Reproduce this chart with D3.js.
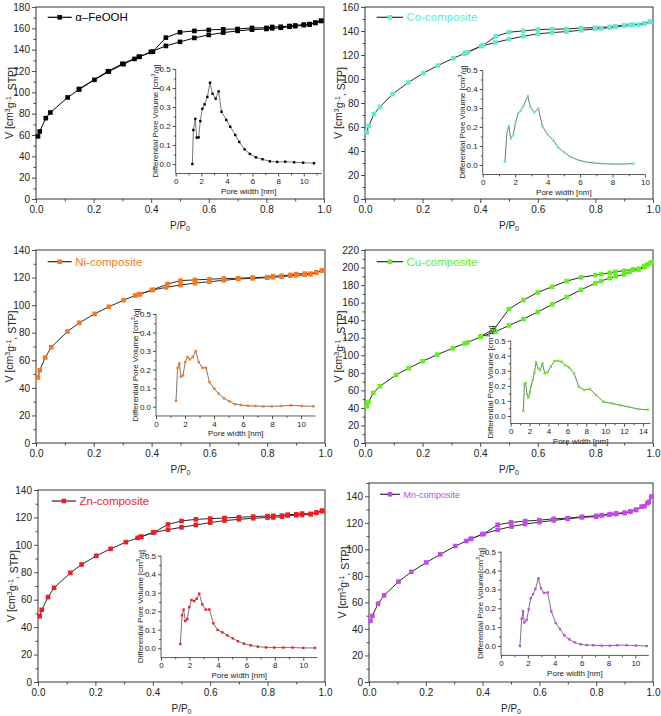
<!DOCTYPE html>
<html><head><meta charset="utf-8">
<script src="https://cdn.jsdelivr.net/npm/d3@7"></script>
<style>
body{margin:0;background:#fff}
svg text{font-family:"Liberation Sans",Arial,Helvetica,sans-serif}
</style>
</head><body>
<svg id="c" width="661" height="716"></svg>
<script>
// ---------- DATA ----------
const pTicks = [0, 0.2, 0.4, 0.6, 0.8, 1.0];
const seriesNames = ["α–FeOOH", "Co-composite", "Ni-composite", "Cu-composite", "Zn-composite", "Mn-composite"];
const seriesColors = ["#000000", "#66e8cf", "#f47a22", "#66ee22", "#ee1c24", "#c24ae8"];
const yMaxes = [180, 160, 140, 220, 140, 150];
const yTickMax = [180, 160, 140, 220, 140, 140];
const psdXMax = [11.4, 10, 11, 14.8, 11, 11];
const psdXTicks = [[0,2,4,6,8,10],[0,2,4,6,8,10],[0,2,4,6,8,10],[0,2,4,6,8,10,12,14],[0,2,4,6,8,10],[0,2,4,6,8,10]];
const psdYTicks = [0, 0.1, 0.2, 0.3, 0.4, 0.5];

// adsorption / desorption branches [P/P0, V]
const feoohAds = [[0.007,58.7],[0.013,63.3],[0.034,75.8],[0.05,81.1],[0.11,95.2],[0.149,102.6],[0.203,111.7],[0.253,119.5],[0.304,126.4],[0.342,131.3],[0.357,133.2],[0.399,137.9],[0.451,143.5],[0.5,147.3],[0.55,151],[0.6,153.8],[0.65,156],[0.7,157.6],[0.75,158.8],[0.8,159.4],[0.82,160],[0.85,160.5],[0.88,161.5],[0.9,162],[0.93,163],[0.95,163.5],[0.97,165],[0.99,167]];
const feoohDes = [[0.99,167],[0.97,165.4],[0.95,164],[0.93,163.5],[0.9,162.7],[0.88,162.2],[0.85,161.5],[0.82,161.3],[0.8,160.4],[0.75,160.4],[0.7,159.4],[0.65,159.1],[0.6,158.5],[0.55,157.6],[0.5,156.3],[0.451,151.3],[0.406,138.2],[0.36,133.5],[0.3,126.8],[0.25,119.8],[0.15,103.2]];
const coAds = [[0.006,55.5],[0.013,61],[0.031,70.7],[0.052,76.8],[0.096,87.4],[0.15,97.1],[0.203,104.9],[0.253,111.2],[0.307,117.3],[0.345,121.2],[0.357,122.3],[0.403,127.3],[0.452,130.4],[0.5,133.1],[0.55,135.6],[0.6,137.6],[0.65,138.7],[0.7,139.5],[0.75,140.6],[0.8,141.7],[0.82,142.2],[0.85,142.8],[0.87,143.4],[0.9,144.5],[0.92,145],[0.95,145.3],[0.97,146.2],[0.99,147.6]];
const coDes = [[0.99,147.6],[0.97,146.2],[0.93,145.3],[0.9,144.7],[0.87,143.9],[0.85,143.4],[0.8,142.8],[0.75,142.5],[0.7,141.7],[0.65,141.5],[0.6,141.2],[0.55,140.1],[0.5,139],[0.455,135.6],[0.41,128.2],[0.35,121.8]];
const niAds = [[0.007,47.5],[0.013,52.8],[0.032,62],[0.053,69.5],[0.109,80.9],[0.15,87.2],[0.203,93.7],[0.252,98.8],[0.303,103.6],[0.343,107],[0.356,107.8],[0.401,110.9],[0.45,112.9],[0.5,114.6],[0.55,116],[0.6,117],[0.65,118],[0.7,119],[0.75,119.4],[0.8,119.9],[0.82,120.2],[0.85,120.6],[0.88,121.4],[0.9,121.6],[0.93,122],[0.95,122.3],[0.97,123.6],[0.99,125.1]];
const niDes = [[0.99,125.1],[0.97,123.8],[0.95,122.8],[0.93,122.9],[0.9,122.5],[0.88,121.9],[0.85,121.3],[0.82,121],[0.8,120.3],[0.75,120],[0.7,119.5],[0.65,119.3],[0.6,118.8],[0.55,118.3],[0.5,117.8],[0.455,115.3],[0.405,111.2],[0.36,108]];
const cuAds = [[0.006,41.9],[0.012,46.8],[0.029,57.1],[0.052,64.7],[0.108,77.6],[0.152,85.3],[0.2,93.2],[0.251,100.8],[0.305,108],[0.345,113.4],[0.356,114.6],[0.402,121],[0.453,126.8],[0.5,134],[0.55,141.3],[0.6,149.3],[0.65,158],[0.7,166.3],[0.75,174.7],[0.8,182],[0.82,184.6],[0.85,188],[0.87,190],[0.9,192.3],[0.92,195],[0.95,197.6],[0.97,200.3],[0.98,203],[0.99,204.8]];
const cuDes = [[0.995,206],[0.98,203.5],[0.97,201.8],[0.95,198.7],[0.93,197.9],[0.9,196.4],[0.87,195.2],[0.85,194],[0.82,192.5],[0.8,191.4],[0.75,188.8],[0.7,184.6],[0.65,178.1],[0.6,171.7],[0.55,162.9],[0.5,152.6],[0.448,129.8],[0.4,121.3]];
const znAds = [[0.006,48],[0.013,52.6],[0.035,61.9],[0.056,68.7],[0.113,79.6],[0.152,85.7],[0.203,92],[0.253,97.1],[0.306,102],[0.347,105.1],[0.358,105.8],[0.401,108.9],[0.453,111.1],[0.5,112.8],[0.55,114.5],[0.6,116.2],[0.65,117.7],[0.7,118.6],[0.75,119.4],[0.8,119.9],[0.82,120],[0.85,120.6],[0.87,121.4],[0.9,121.6],[0.92,121.8],[0.95,122.3],[0.97,123.3],[0.99,124.5]];
const znDes = [[0.99,125],[0.97,123.6],[0.95,122.6],[0.92,122.8],[0.9,122.3],[0.87,122],[0.85,121.3],[0.82,121.2],[0.8,121],[0.75,120.6],[0.7,120.1],[0.65,119.6],[0.6,119.1],[0.55,118.6],[0.5,117.4],[0.453,114.9],[0.405,109.2],[0.36,106]];
const mnAds = [[0.005,46.1],[0.012,49.9],[0.032,59],[0.053,65.3],[0.104,75.7],[0.149,83],[0.202,90.1],[0.251,96.2],[0.304,102.5],[0.343,106.3],[0.358,107.8],[0.399,111.4],[0.453,114.7],[0.502,117.2],[0.549,119],[0.6,120.5],[0.65,121.8],[0.7,123],[0.75,124.1],[0.8,124.6],[0.82,125.6],[0.845,126.1],[0.87,127.1],[0.9,127.6],[0.92,128.6],[0.94,129.6],[0.96,132.2],[0.98,134.7],[0.995,139.7]];
const mnDes = [[0.995,139.7],[0.985,135.7],[0.97,132.5],[0.94,129.9],[0.92,128.4],[0.9,127.3],[0.87,126.6],[0.85,126.6],[0.82,125.8],[0.8,125.3],[0.75,124.6],[0.7,123.5],[0.65,123],[0.6,122],[0.55,121.3],[0.5,120.3],[0.453,118.5],[0.404,111.6],[0.36,108]];

// pore size distributions [pore width nm, dV]
const feoohPsd = [[1.3,0],[1.38,0.179],[1.53,0.237],[1.64,0.139],[1.79,0.14],[1.92,0.226],[2.08,0.291],[2.26,0.314],[2.47,0.353],[2.68,0.428],[2.88,0.37],[3.12,0.344],[3.35,0.382],[3.58,0.275],[3.95,0.232],[4.26,0.196],[4.65,0.153],[4.96,0.116],[5.38,0.077],[5.79,0.053],[6.26,0.035],[6.78,0.025],[7.35,0.014],[7.92,0.011],[8.55,0.012],[9.25,0.009],[9.95,0.007],[10.8,0.004]];
const coPsd = [[1.37,0.018],[1.49,0.167],[1.61,0.205],[1.73,0.14],[1.88,0.158],[2.02,0.223],[2.18,0.272],[2.35,0.286],[2.51,0.311],[2.78,0.363],[2.94,0.304],[3.18,0.277],[3.43,0.297],[3.69,0.202],[4.0,0.161],[4.33,0.132],[4.65,0.093],[5.02,0.067],[5.43,0.042],[5.88,0.026],[6.35,0.016],[6.84,0.011],[7.4,0.007],[7.98,0.005],[8.57,0.005],[9.29,0.007]];
const niPsd = [[1.38,0.032],[1.49,0.209],[1.61,0.234],[1.72,0.162],[1.86,0.169],[2.02,0.241],[2.18,0.268],[2.34,0.255],[2.53,0.268],[2.74,0.3],[2.94,0.241],[3.2,0.21],[3.45,0.21],[3.68,0.133],[4.02,0.097],[4.32,0.07],[4.69,0.045],[5.06,0.029],[5.45,0.014],[5.86,0.009],[6.34,0.005],[6.85,0.004],[7.4,0.002],[7.98,0.002],[8.62,0.004],[9.31,0.007],[10.05,0.004],[10.85,0.002]];
const cuPsd = [[1.34,0.035],[1.45,0.212],[1.59,0.219],[1.73,0.144],[1.87,0.122],[2.05,0.159],[2.16,0.199],[2.33,0.239],[2.51,0.288],[2.69,0.358],[2.9,0.316],[3.11,0.305],[3.36,0.35],[3.6,0.283],[3.89,0.29],[4.24,0.327],[4.63,0.365],[4.98,0.367],[5.41,0.36],[5.76,0.338],[6.18,0.323],[6.71,0.283],[7.21,0.195],[7.77,0.173],[8.41,0.179],[9.05,0.139],[9.82,0.095],[10.7,0.084],[11.6,0.071],[12.5,0.06],[13.5,0.046],[14.5,0.042]];
const znPsd = [[1.36,0.023],[1.48,0.178],[1.59,0.209],[1.71,0.147],[1.85,0.158],[1.99,0.223],[2.15,0.261],[2.34,0.255],[2.51,0.268],[2.69,0.295],[2.9,0.237],[3.14,0.209],[3.4,0.21],[3.68,0.135],[3.98,0.099],[4.31,0.086],[4.66,0.07],[5.04,0.054],[5.41,0.038],[5.83,0.025],[6.3,0.016],[6.81,0.009],[7.38,0.005],[7.96,0.004],[8.6,0.004],[9.25,0.004],[10.0,0.002],[10.82,0.002]];
const mnPsd = [[1.41,0],[1.54,0.145],[1.64,0.184],[1.74,0.124],[1.91,0.138],[2.06,0.194],[2.21,0.253],[2.38,0.274],[2.56,0.302],[2.78,0.359],[2.98,0.306],[3.2,0.281],[3.47,0.284],[3.75,0.182],[4.07,0.122],[4.39,0.09],[4.71,0.057],[5.09,0.035],[5.48,0.019],[5.93,0.009],[6.38,0.005],[6.87,0.004],[7.49,0.002],[8.11,0.002],[8.66,0.004],[9.35,0.004],[10.05,0.002],[10.84,0]];

const adsData = [feoohAds, coAds, niAds, cuAds, znAds, mnAds];
const desData = [feoohDes, coDes, niDes, cuDes, znDes, mnDes];
const psdData = [feoohPsd, coPsd, niPsd, cuPsd, znPsd, mnPsd];
const psdYTitles = ["Differential Pore Volume [cm|3|/g]","Differential Pore Volume [cm|3|/g]","Differential Pore Volume [cm|3|/g]","Differential Pore Volume [cm|3|/g]","Differential Pore Volume [cm|3|/g]","Differential Pore Volume[cm|3|/g]"];

// ---------- LAYOUT ----------
const frames = [
  {l:36, r:324, t:7, b:199}, {l:365, r:653, t:7, b:199},
  {l:36, r:325, t:250, b:443}, {l:365, r:653, t:250, b:443},
  {l:38, r:325, t:490, b:682}, {l:369, r:653, t:483, b:682}
];
const insets = [
  {l:175.7, r:321.7, y0:164, y05:69},
  {l:482.7, r:645, y0:165, y05:70},
  {l:156, r:315.5, y0:406.7, y05:314},
  {l:510.7, r:650.5, y0:416, y05:340.7},
  {l:161, r:317.5, y0:648.3, y05:555.7},
  {l:501, r:648.8, y0:646, y05:551.7}
];
const legends = [
  {x1:47.7, x2:71.7, y:17.3, fs:11.5},
  {x1:376.7, x2:403, y:17.3, fs:11.5},
  {x1:47.7, x2:71.7, y:261.7, fs:11.5},
  {x1:376.7, x2:403, y:261.7, fs:11.5},
  {x1:51.7, x2:76, y:501, fs:11.5},
  {x1:380, x2:400, y:494.3, fs:9}
];

const svg = d3.select("#c");
const FONT = '"Liberation Sans", Arial, Helvetica, sans-serif';

function styleAxis(sel, fs) {
  sel.select(".domain").remove();
  sel.selectAll(".tick line").attr("stroke", "#222").attr("stroke-width", 0.8);
  sel.selectAll(".tick text").attr("fill", "#222").attr("font-size", fs).attr("font-family", FONT);
}
function supText(sel, str, supSize) {
  const parts = str.split("|");
  parts.forEach((p, i) => {
    if (i % 2 === 1) {
      sel.append("tspan").attr("dy", "-0.45em").attr("font-size", supSize).text(p);
    } else {
      const t = sel.append("tspan").text(p);
      if (i > 0) t.attr("dy", "0.45em");
    }
  });
}

for (let k = 0; k < 6; k++) {
  const F = frames[k], I = insets[k], L = legends[k];
  const color = seriesColors[k];
  const lineColor = k === 0 ? "#000" : "#2a2a2a";
  const g = svg.append("g");
  const x = d3.scaleLinear().domain([0, 1]).range([F.l, F.r]);
  const y = d3.scaleLinear().domain([0, yMaxes[k]]).range([F.b, F.t]);

  // minor ticks
  styleAxis(g.append("g").attr("transform", `translate(0,${F.b})`)
    .call(d3.axisBottom(x).tickValues([0.1, 0.3, 0.5, 0.7, 0.9]).tickSize(2.5).tickFormat("").tickSizeOuter(0)), 10);
  styleAxis(g.append("g").attr("transform", `translate(${F.l},0)`)
    .call(d3.axisLeft(y).tickValues(d3.range(10, yMaxes[k] + 0.1, 20)).tickSize(2.5).tickFormat("").tickSizeOuter(0)), 10);
  // major ticks
  styleAxis(g.append("g").attr("transform", `translate(0,${F.b})`)
    .call(d3.axisBottom(x).tickValues(pTicks).tickSize(4).tickPadding(3).tickFormat(d3.format(".1f")).tickSizeOuter(0)), "10px");
  styleAxis(g.append("g").attr("transform", `translate(${F.l},0)`)
    .call(d3.axisLeft(y).tickValues(d3.range(0, yTickMax[k] + 0.1, 20)).tickSize(4).tickPadding(2).tickSizeOuter(0)), "10px");

  // frame
  g.append("rect").attr("x", F.l).attr("y", F.t).attr("width", F.r - F.l).attr("height", F.b - F.t)
    .attr("fill", "none").attr("stroke", "#333").attr("stroke-width", 1);

  // axis titles
  const yt = g.append("text").attr("transform", `translate(${F.l - 27},${(F.t + F.b) / 2}) rotate(-90)`)
    .attr("text-anchor", "middle").attr("dy", "0.35em").attr("font-size", "10.5px").attr("fill", "#222");
  supText(yt, "V [cm|3|g|-1|, STP]", "7px");
  const xt = g.append("text").attr("x", (F.l + F.r) / 2).attr("y", F.b + 30)
    .attr("text-anchor", "middle").attr("font-size", "10px").attr("fill", "#222");
  xt.append("tspan").text("P/P");
  xt.append("tspan").attr("dy", "0.3em").attr("font-size", "7px").text("0");

  // isotherm lines
  const line = d3.line().x(d => x(d[0])).y(d => y(d[1]));
  [adsData[k], desData[k]].forEach(arr => {
    g.append("path").attr("d", line(arr)).attr("fill", "none").attr("stroke", lineColor).attr("stroke-width", 1);
  });
  const ms = 4.6;
  [adsData[k], desData[k]].forEach(arr => {
    g.append("g").selectAll("rect").data(arr).join("rect")
      .attr("x", d => x(d[0]) - ms / 2).attr("y", d => y(d[1]) - ms / 2)
      .attr("width", ms).attr("height", ms).attr("fill", color);
  });

  // legend
  g.append("line").attr("x1", L.x1).attr("x2", L.x2).attr("y1", L.y).attr("y2", L.y)
    .attr("stroke", lineColor).attr("stroke-width", 1.2);
  g.append("rect").attr("x", (L.x1 + L.x2) / 2 - ms / 2).attr("y", L.y - ms / 2)
    .attr("width", ms).attr("height", ms).attr("fill", color);
  g.append("text").attr("x", L.x2 + 3.5).attr("y", L.y + L.fs * 0.36).attr("font-size", L.fs + "px")
    .attr("fill", color).text(seriesNames[k]);

  // ---------- inset ----------
  const ib = I.y0 + (I.y0 - I.y05) / 10;
  const ix = d3.scaleLinear().domain([0, psdXMax[k]]).range([I.l, I.r]);
  const iy = d3.scaleLinear().domain([-0.05, 0.5]).range([ib, I.y05]);
  const ig = g.append("g");
  const xt2 = psdXTicks[k];
  const xminor = xt2.map(v => v + 1).filter(v => v < psdXMax[k]);
  styleAxis(ig.append("g").attr("transform", `translate(0,${ib})`)
    .call(d3.axisBottom(ix).tickValues(xminor).tickSize(1.8).tickFormat("").tickSizeOuter(0)), 8);
  styleAxis(ig.append("g").attr("transform", `translate(${I.l},0)`)
    .call(d3.axisLeft(iy).tickValues([0.05, 0.15, 0.25, 0.35, 0.45]).tickSize(1.8).tickFormat("").tickSizeOuter(0)), 8);
  styleAxis(ig.append("g").attr("transform", `translate(0,${ib})`)
    .call(d3.axisBottom(ix).tickValues(xt2).tickSize(3).tickPadding(2).tickSizeOuter(0)), "8px");
  styleAxis(ig.append("g").attr("transform", `translate(${I.l},0)`)
    .call(d3.axisLeft(iy).tickValues(psdYTicks).tickSize(3).tickPadding(2).tickFormat(d3.format(".1f")).tickSizeOuter(0)), "8px");
  ig.append("line").attr("x1", I.l).attr("x2", I.l).attr("y1", ib).attr("y2", iy(0.5))
    .attr("stroke", "#333").attr("stroke-width", 0.8);
  ig.append("line").attr("x1", I.l).attr("x2", I.r).attr("y1", ib).attr("y2", ib)
    .attr("stroke", "#333").attr("stroke-width", 0.8);
  const iyt = ig.append("text").attr("transform", `translate(${I.l - 21},${(ib + iy(0.5)) / 2}) rotate(-90)`)
    .attr("text-anchor", "middle").attr("dy", "0.35em").attr("font-size", "8px").attr("fill", "#222");
  supText(iyt, psdYTitles[k], "5.5px");
  ig.append("text").attr("x", (I.l + I.r) / 2).attr("y", ib + 20.5).attr("text-anchor", "middle")
    .attr("font-size", "8px").attr("fill", "#222").text("Pore width [nm]");
  const iline = d3.line().x(d => ix(d[0])).y(d => iy(d[1]));
  ig.append("path").attr("d", iline(psdData[k])).attr("fill", "none").attr("stroke", "#555").attr("stroke-width", 0.8);
  const ims = 2.4;
  ig.append("g").selectAll("rect").data(psdData[k]).join("rect")
    .attr("x", d => ix(d[0]) - ims / 2).attr("y", d => iy(d[1]) - ims / 2)
    .attr("width", ims).attr("height", ims).attr("fill", k === 0 ? "#000" : color);
}
</script>
</body></html>
